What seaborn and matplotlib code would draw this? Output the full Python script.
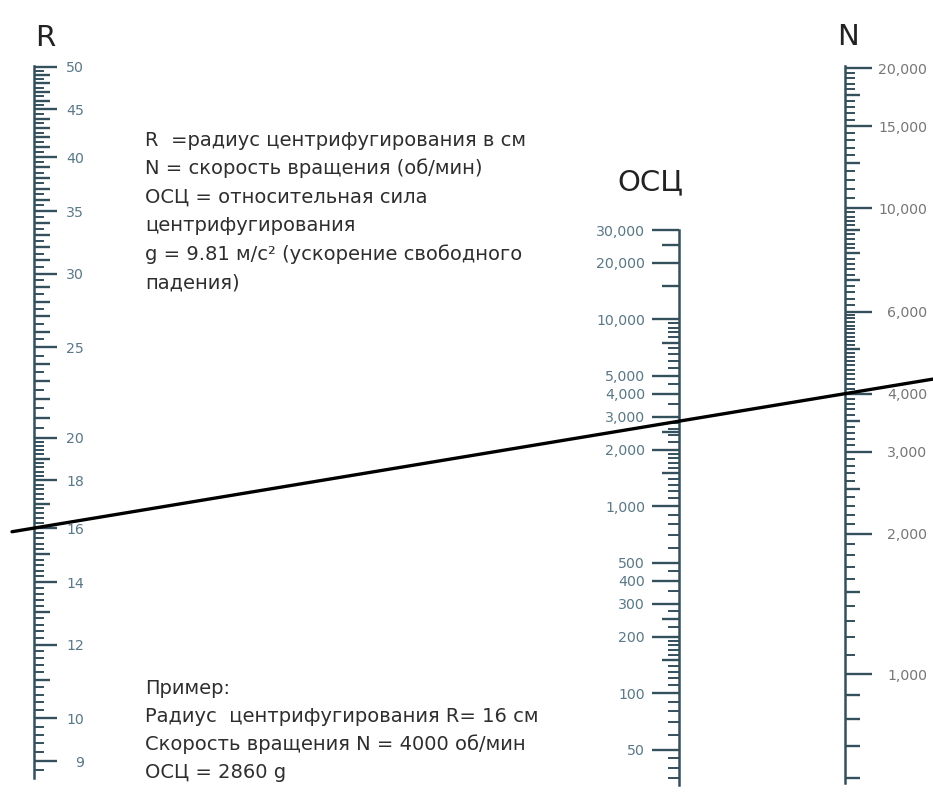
import numpy as np
import matplotlib
matplotlib.use("Agg")
import matplotlib.pyplot as plt
import seaborn as sns
from matplotlib.ticker import FixedLocator, FixedFormatter, NullFormatter

# --- scale values -----------------------------------------------------------
r_labels = [9, 10, 12, 14, 16, 18, 20, 25, 30, 35, 40, 45, 50]
n_labels = [1000, 2000, 3000, 4000, 6000, 10000, 15000, 20000]
rcf_labels = [50, 100, 200, 300, 400, 500, 1000, 2000, 3000, 4000, 5000,
              10000, 20000, 30000]

r_range = (8.63, 50.1)
n_range = (584, 20200)
rcf_range = (32.3, 30000)

# medium (unlabelled) ticks
r_medium = [v for v in range(9, 51) if v not in r_labels]
n_medium = [600, 700, 800, 900, 1500, 2500, 3500, 5000, 7000, 8000, 9000,
            12500, 17500]
rcf_medium = [150, 250, 1500, 2500, 7500, 15000, 25000]

# short ticks
r_short = [v for v in np.concatenate([np.arange(8.8, 20, 0.2), np.arange(20.5, 50, 0.5)])
           if abs(v - round(v)) > 1e-6]
n_short = [v for v in list(range(1100, 4000, 100)) + list(range(4100, 6000, 100))
           + list(range(6200, 10000, 200)) + list(range(10500, 20000, 500))
           if v not in n_labels and v not in n_medium]
rcf_short = [35, 40, 45, 60, 70, 80, 90, 110, 120, 130, 140, 160, 170, 180, 190,
             225, 275, 350, 450, 600, 700, 800, 900, 1100, 1200, 1300, 1400,
             1600, 1700, 1800, 1900, 2200, 2400, 2600, 2800, 3500, 4500, 5500,
             6000, 6500, 7000, 8000, 8500, 9000, 9500]

# worked example
r_example = 16
n_example = 4000

legend_lines = [
    "R  =радиус центрифугирования в см",
    "N = скорость вращения (об/мин)",
    "ОСЦ = относительная сила",
    "центрифугирования",
    "g = 9.81 м/с² (ускорение свободного",
    "падения)",
]
example_lines = [
    "Пример:",
    "Радиус  центрифугирования R= 16 см",
    "Скорость вращения N = 4000 об/мин",
    "ОСЦ = 2860 g",
]

# --- figure ------------------------------------------------------------------
sns.set_theme(style="white")
plt.rcParams["font.family"] = ["DejaVu Sans"]

W, H = 933, 794
fig = plt.figure(figsize=(W / 100, H / 100), dpi=100)
fig.patch.set_facecolor("white")

PT = 0.72  # points per pixel at dpi 100
tick_color = "#34505c"


def px_rect(x0, x1, ytop, ybot):
    return [x0 / W, 1 - ybot / H, (x1 - x0) / W, (ybot - ytop) / H]


def base_axes(rect, lim, side):
    ax = fig.add_axes(rect)
    ax.set_yscale("log")
    ax.set_ylim(*lim)
    ax.set_xticks([])
    ax.patch.set_alpha(0)
    for s in ax.spines.values():
        s.set_visible(False)
    if side == "right":
        ax.yaxis.tick_right()
    else:
        ax.yaxis.tick_left()
    ax.yaxis.set_minor_formatter(NullFormatter())
    return ax


def make_scale(rect, lim, labels, medium, short, side, lens, label_color,
               label_ha, pad_px):
    long_len, mid_len, short_len = lens
    ax = base_axes(rect, lim, side)
    ax.spines[side].set_visible(True)
    ax.spines[side].set_color(tick_color)
    ax.spines[side].set_linewidth(1.8)
    ax.yaxis.set_major_locator(FixedLocator(labels))
    ax.yaxis.set_major_formatter(FixedFormatter([f"{v:,}" for v in labels]))
    ax.yaxis.set_minor_locator(FixedLocator(medium))
    ax.tick_params(axis="y", which="major", length=long_len * PT, width=1.7,
                   color=tick_color, pad=pad_px * PT, labelsize=10.2,
                   labelcolor=label_color)
    ax.tick_params(axis="y", which="minor", length=mid_len * PT, width=1.7,
                   color=tick_color)
    for lbl in ax.get_yticklabels():
        lbl.set_ha(label_ha)

    ax2 = base_axes(rect, lim, side)
    ax2.yaxis.set_major_locator(FixedLocator(short))
    ax2.yaxis.set_major_formatter(NullFormatter())
    ax2.yaxis.set_minor_locator(FixedLocator([]))
    ax2.tick_params(axis="y", which="major", length=short_len * PT, width=1.4,
                    color=tick_color)
    return ax


ax_r = make_scale(px_rect(0, 34, 66, 778), r_range, r_labels, r_medium, r_short,
                  "right", (23, 16, 10), "#5a7886", "right", 27)
ax_n = make_scale(px_rect(790, 845, 66, 783), n_range, n_labels, n_medium, n_short,
                  "right", (27, 15, 10), "#777777", "right", 55)
ax_rcf = make_scale(px_rect(679, 700, 230, 785), rcf_range, rcf_labels, rcf_medium,
                    rcf_short, "left", (27, 17, 11), "#5a7886", "right", 7)

# --- overlay in pixel coordinates for titles, notes and the key line ---------
over = fig.add_axes([0, 0, 1, 1])
over.set_xlim(0, W)
over.set_ylim(H, 0)
over.axis("off")
over.patch.set_alpha(0)

title_kw = dict(fontsize=21, color="#222222", ha="center", va="center")
over.text(45, 38, "R", **title_kw)
over.text(848, 37, "N", **title_kw)
over.text(650, 182, "ОСЦ", **title_kw)

text_kw = dict(fontsize=14, color="#2e2e2e", ha="left", va="center")
for i, line in enumerate(legend_lines):
    over.text(145, 140 + i * 28.6, line, **text_kw)
for i, line in enumerate(example_lines):
    over.text(145, 688 + i * 28, line, **text_kw)

# key line through R = 16 and N = 4000, extended past both scales
to_over = over.transData.inverted()
p_r = to_over.transform(ax_r.get_yaxis_transform().transform((1, r_example)))
p_n = to_over.transform(ax_n.get_yaxis_transform().transform((1, n_example)))
slope = (p_n[1] - p_r[1]) / (p_n[0] - p_r[0])
xs = np.array([p_r[0] - 22, W])
ys = p_r[1] + slope * (xs - p_r[0])
sns.lineplot(x=xs, y=ys, ax=over, color="black", linewidth=2.4, sort=False)

fig.savefig("out.png", dpi=100, facecolor="white")
